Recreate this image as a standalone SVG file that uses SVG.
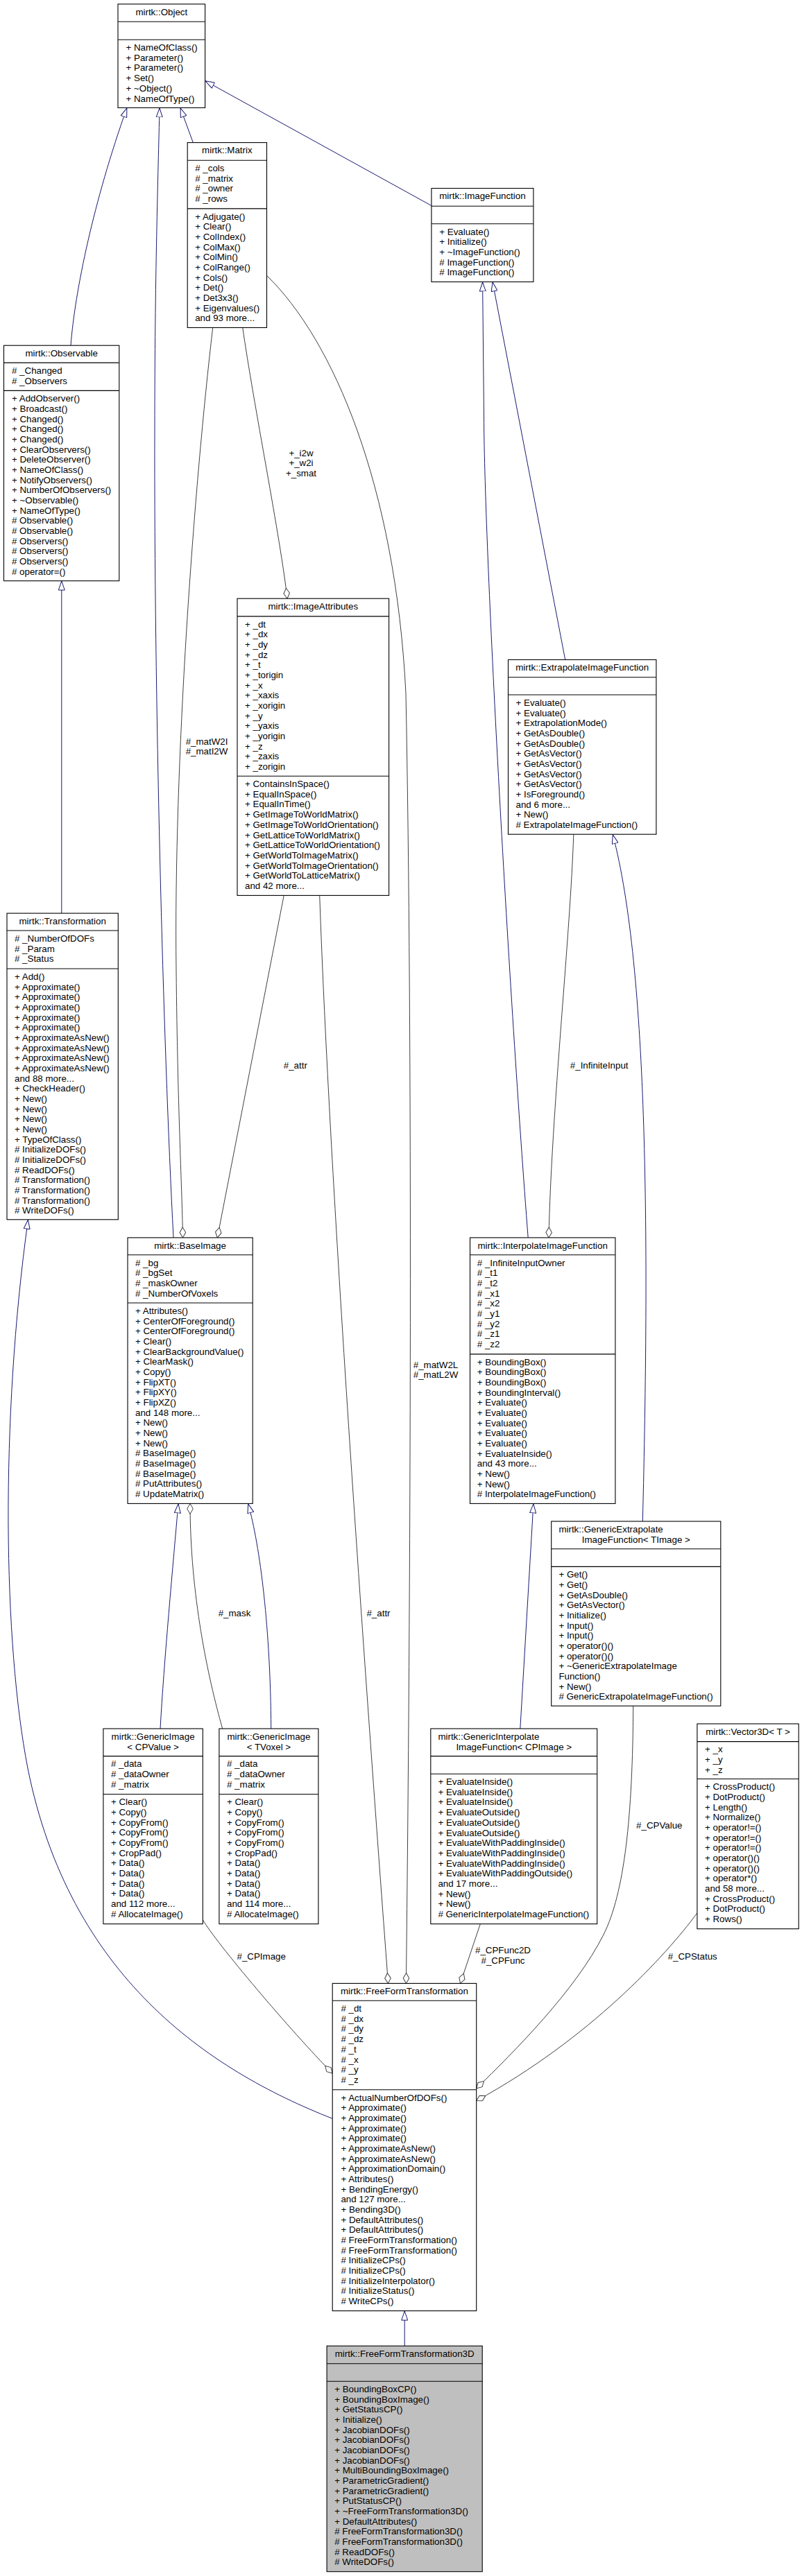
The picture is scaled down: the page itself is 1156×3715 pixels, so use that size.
<svg xmlns="http://www.w3.org/2000/svg" width="1156" height="3715" viewBox="0 0 1156 3715">
<style>
text{font-family:"Liberation Sans",Arial,Helvetica,sans-serif;font-size:13.33px;fill:#000}
.c{text-anchor:middle}
.n rect{fill:#fff;stroke:#000;stroke-width:1.1}
.n path{stroke:#000;stroke-width:1.1;fill:none}
.g rect{fill:#bfbfbf}
.inh{fill:none;stroke:#191970;stroke-width:1;marker-end:url(#tri)}
.use{fill:none;stroke:#404040;stroke-width:1;marker-end:url(#dia)}
</style>
<defs>
<marker id="tri" viewBox="0 0 14 10" refX="14" refY="5" markerWidth="14" markerHeight="10" markerUnits="userSpaceOnUse" orient="auto"><path d="M0.5,0.5 L13.5,5 L0.5,9.5 z" fill="#fff" stroke="#191970" stroke-width="1"/></marker>
<marker id="dia" viewBox="0 0 16 10" refX="15.5" refY="5" markerWidth="16" markerHeight="10" markerUnits="userSpaceOnUse" orient="auto"><path d="M0.5,5 L8,0.7 L15.5,5 L8,9.3 z" fill="#fff" stroke="#404040" stroke-width="1"/></marker>
</defs>
<rect width="1156" height="3715" fill="#fff"/>
<g id="edges">
<path class="inh" d="M102,498.2 C108,420 135,290 183,155.4"/>
<path class="inh" d="M250,1784.9 C235,1500 222,1000 223,620 C223,400 228,250 230,155.4"/>
<path class="inh" d="M278.3,205.6 L259.9,155.4"/>
<path class="inh" d="M621.9,296.6 L295.6,116.6"/>
<path class="inh" d="M88.8,1317.1 L88.8,837.5"/>
<path class="inh" d="M761.2,1784.9 C735,1450 698,800 697.5,600 L695.6,406.5"/>
<path class="inh" d="M814.7,951.4 L710,406.5"/>
<path class="inh" d="M926.3,2194 C936,1800 935,1400 883.2,1203.2"/>
<path class="inh" d="M749.8,2493 L768.9,2168.4"/>
<path class="inh" d="M231,2493 C236,2400 250,2250 257,2168.4"/>
<path class="inh" d="M390.7,2493 C390,2350 375,2230 357.6,2168.4"/>
<path class="inh" d="M479.2,3055.3 C300,2985 100,2850 40,2550 C5,2370 0,2050 40.5,1758.8"/>
<path class="inh" d="M583.2,3383.2 L583.2,3332.6"/>
<path class="use" d="M349.8,472.5 C365,580 405,780 414,863.2"/>
<path class="use" d="M306.7,472.5 C280,700 250,1100 254,1400 C256,1600 262,1700 263.5,1784.9"/>
<path class="use" d="M384.5,397.4 C480,490 570,700 585,1000 C595,1500 592,2300 585.4,2860.4"/>
<path class="use" d="M409.2,1291.4 L313.3,1784.9"/>
<path class="use" d="M460.7,1291.4 C475,1700 525,2400 559.5,2860.4"/>
<path class="use" d="M826.8,1203.2 C822,1350 795,1600 791,1784.9"/>
<path class="use" d="M320.7,2493 C300,2420 274,2300 274,2168.4"/>
<path class="use" d="M292.3,2768.6 C310,2800 420,2930 479.2,2990"/>
<path class="use" d="M692.3,2774.6 L663.5,2860.4"/>
<path class="use" d="M912.7,2460.2 C912,2620 900,2730 870,2790 C830,2870 740,2960 686.7,3011.8"/>
<path class="use" d="M1004.9,2758.8 C960,2820 850,2940 686.7,3029.6"/>
<g id="edge-labels">
<text class="c" x="434" y="657.5">+_i2w</text>
<text class="c" x="434" y="672.2">+_w2i</text>
<text class="c" x="434" y="686.8">+_smat</text>
<text class="c" x="298" y="1073.5">#_matW2I</text>
<text class="c" x="298" y="1088.2">#_matI2W</text>
<text class="c" x="425.8" y="1541.3">#_attr</text>
<text class="c" x="863.7" y="1541.3">#_InfiniteInput</text>
<text class="c" x="628" y="1972.7">#_matW2L</text>
<text class="c" x="628" y="1987.3">#_matL2W</text>
<text class="c" x="338" y="2331.3">#_mask</text>
<text class="c" x="545.5" y="2331.3">#_attr</text>
<text class="c" x="950.3" y="2636.9">#_CPValue</text>
<text class="c" x="376.7" y="2825.5">#_CPImage</text>
<text class="c" x="725" y="2816.8">#_CPFunc2D</text>
<text class="c" x="725" y="2831.5">#_CPFunc</text>
<text class="c" x="998.2" y="2825.5">#_CPStatus</text>
</g>
</g>
<g id="Object" class="n">
<rect x="170" y="5.9" width="125.6" height="149.5"/>
<path d="M170,31.2 H295.6 M170,57.3 H295.6"/>
<text class="c" x="232.8" y="22">mirtk::Object</text>
<text x="181.5" y="73.1">+ NameOfClass()</text>
<text x="181.5" y="87.8">+ Parameter()</text>
<text x="181.5" y="102.4">+ Parameter()</text>
<text x="181.5" y="117.1">+ Set()</text>
<text x="181.5" y="131.8">+ ~Object()</text>
<text x="181.5" y="146.5">+ NameOfType()</text>
</g>
<g id="Matrix" class="n">
<rect x="270.2" y="205.6" width="114.3" height="266.9"/>
<path d="M270.2,231.3 H384.5 M270.2,300.9 H384.5"/>
<text class="c" x="327.35" y="221.4">mirtk::Matrix</text>
<text x="281.2" y="247.1"># _cols</text>
<text x="281.2" y="261.8"># _matrix</text>
<text x="281.2" y="276.4"># _owner</text>
<text x="281.2" y="291.1"># _rows</text>
<text x="281.2" y="316.7">+ Adjugate()</text>
<text x="281.2" y="331.4">+ Clear()</text>
<text x="281.2" y="346">+ ColIndex()</text>
<text x="281.2" y="360.7">+ ColMax()</text>
<text x="281.2" y="375.4">+ ColMin()</text>
<text x="281.2" y="390.1">+ ColRange()</text>
<text x="281.2" y="404.7">+ Cols()</text>
<text x="281.2" y="419.4">+ Det()</text>
<text x="281.2" y="434.1">+ Det3x3()</text>
<text x="281.2" y="448.7">+ Eigenvalues()</text>
<text x="281.2" y="463.4">and 93 more...</text>
</g>
<g id="ImageFunction" class="n">
<rect x="621.9" y="271.6" width="147" height="134.9"/>
<path d="M621.9,297.3 H768.9 M621.9,322.7 H768.9"/>
<text class="c" x="695.4" y="287.4">mirtk::ImageFunction</text>
<text x="633.3" y="338.5">+ Evaluate()</text>
<text x="633.3" y="353.2">+ Initialize()</text>
<text x="633.3" y="367.8">+ ~ImageFunction()</text>
<text x="633.3" y="382.5"># ImageFunction()</text>
<text x="633.3" y="397.2"># ImageFunction()</text>
</g>
<g id="Observable" class="n">
<rect x="5.5" y="498.2" width="166.3" height="339.5"/>
<path d="M5.5,523.1 H171.8 M5.5,563.4 H171.8"/>
<text class="c" x="88.65" y="514">mirtk::Observable</text>
<text x="17" y="538.9"># _Changed</text>
<text x="17" y="553.6"># _Observers</text>
<text x="17" y="579.2">+ AddObserver()</text>
<text x="17" y="593.9">+ Broadcast()</text>
<text x="17" y="608.5">+ Changed()</text>
<text x="17" y="623.2">+ Changed()</text>
<text x="17" y="637.9">+ Changed()</text>
<text x="17" y="652.6">+ ClearObservers()</text>
<text x="17" y="667.2">+ DeleteObserver()</text>
<text x="17" y="681.9">+ NameOfClass()</text>
<text x="17" y="696.6">+ NotifyObservers()</text>
<text x="17" y="711.2">+ NumberOfObservers()</text>
<text x="17" y="725.9">+ ~Observable()</text>
<text x="17" y="740.6">+ NameOfType()</text>
<text x="17" y="755.2"># Observable()</text>
<text x="17" y="769.9"># Observable()</text>
<text x="17" y="784.6"># Observers()</text>
<text x="17" y="799.3"># Observers()</text>
<text x="17" y="813.9"># Observers()</text>
<text x="17" y="828.6"># operator=()</text>
</g>
<g id="ImageAttributes" class="n">
<rect x="342" y="863.2" width="218.6" height="428.2"/>
<path d="M342,888.9 H560.6 M342,1119.3 H560.6"/>
<text class="c" x="451.3" y="879">mirtk::ImageAttributes</text>
<text x="353" y="904.7">+ _dt</text>
<text x="353" y="919.4">+ _dx</text>
<text x="353" y="934">+ _dy</text>
<text x="353" y="948.7">+ _dz</text>
<text x="353" y="963.4">+ _t</text>
<text x="353" y="978.1">+ _torigin</text>
<text x="353" y="992.7">+ _x</text>
<text x="353" y="1007.4">+ _xaxis</text>
<text x="353" y="1022.1">+ _xorigin</text>
<text x="353" y="1036.7">+ _y</text>
<text x="353" y="1051.4">+ _yaxis</text>
<text x="353" y="1066.1">+ _yorigin</text>
<text x="353" y="1080.7">+ _z</text>
<text x="353" y="1095.4">+ _zaxis</text>
<text x="353" y="1110.1">+ _zorigin</text>
<text x="353" y="1135.1">+ ContainsInSpace()</text>
<text x="353" y="1149.8">+ EqualInSpace()</text>
<text x="353" y="1164.4">+ EqualInTime()</text>
<text x="353" y="1179.1">+ GetImageToWorldMatrix()</text>
<text x="353" y="1193.8">+ GetImageToWorldOrientation()</text>
<text x="353" y="1208.5">+ GetLatticeToWorldMatrix()</text>
<text x="353" y="1223.1">+ GetLatticeToWorldOrientation()</text>
<text x="353" y="1237.8">+ GetWorldToImageMatrix()</text>
<text x="353" y="1252.5">+ GetWorldToImageOrientation()</text>
<text x="353" y="1267.1">+ GetWorldToLatticeMatrix()</text>
<text x="353" y="1281.8">and 42 more...</text>
</g>
<g id="ExtrapolateImageFunction" class="n">
<rect x="732.5" y="951.4" width="213.4" height="251.8"/>
<path d="M732.5,976.7 H945.9 M732.5,1002 H945.9"/>
<text class="c" x="839.2" y="967.2">mirtk::ExtrapolateImageFunction</text>
<text x="743.5" y="1017.8">+ Evaluate()</text>
<text x="743.5" y="1032.5">+ Evaluate()</text>
<text x="743.5" y="1047.1">+ ExtrapolationMode()</text>
<text x="743.5" y="1061.8">+ GetAsDouble()</text>
<text x="743.5" y="1076.5">+ GetAsDouble()</text>
<text x="743.5" y="1091.2">+ GetAsVector()</text>
<text x="743.5" y="1105.8">+ GetAsVector()</text>
<text x="743.5" y="1120.5">+ GetAsVector()</text>
<text x="743.5" y="1135.2">+ GetAsVector()</text>
<text x="743.5" y="1149.8">+ IsForeground()</text>
<text x="743.5" y="1164.5">and 6 more...</text>
<text x="743.5" y="1179.2">+ New()</text>
<text x="743.5" y="1193.8"># ExtrapolateImageFunction()</text>
</g>
<g id="Transformation" class="n">
<rect x="10" y="1317.1" width="160.3" height="441.7"/>
<path d="M10,1342 H170.3 M10,1397 H170.3"/>
<text class="c" x="90.15" y="1332.9">mirtk::Transformation</text>
<text x="21" y="1357.8"># _NumberOfDOFs</text>
<text x="21" y="1372.5"># _Param</text>
<text x="21" y="1387.1"># _Status</text>
<text x="21" y="1412.8">+ Add()</text>
<text x="21" y="1427.5">+ Approximate()</text>
<text x="21" y="1442.1">+ Approximate()</text>
<text x="21" y="1456.8">+ Approximate()</text>
<text x="21" y="1471.5">+ Approximate()</text>
<text x="21" y="1486.2">+ Approximate()</text>
<text x="21" y="1500.8">+ ApproximateAsNew()</text>
<text x="21" y="1515.5">+ ApproximateAsNew()</text>
<text x="21" y="1530.2">+ ApproximateAsNew()</text>
<text x="21" y="1544.8">+ ApproximateAsNew()</text>
<text x="21" y="1559.5">and 88 more...</text>
<text x="21" y="1574.2">+ CheckHeader()</text>
<text x="21" y="1588.8">+ New()</text>
<text x="21" y="1603.5">+ New()</text>
<text x="21" y="1618.2">+ New()</text>
<text x="21" y="1632.9">+ New()</text>
<text x="21" y="1647.5">+ TypeOfClass()</text>
<text x="21" y="1662.2"># InitializeDOFs()</text>
<text x="21" y="1676.9"># InitializeDOFs()</text>
<text x="21" y="1691.5"># ReadDOFs()</text>
<text x="21" y="1706.2"># Transformation()</text>
<text x="21" y="1720.9"># Transformation()</text>
<text x="21" y="1735.5"># Transformation()</text>
<text x="21" y="1750.2"># WriteDOFs()</text>
</g>
<g id="BaseImage" class="n">
<rect x="184" y="1784.9" width="180.2" height="383.5"/>
<path d="M184,1809.8 H364.2 M184,1879 H364.2"/>
<text class="c" x="274.1" y="1800.7">mirtk::BaseImage</text>
<text x="195" y="1825.6"># _bg</text>
<text x="195" y="1840.3"># _bgSet</text>
<text x="195" y="1854.9"># _maskOwner</text>
<text x="195" y="1869.6"># _NumberOfVoxels</text>
<text x="195" y="1894.8">+ Attributes()</text>
<text x="195" y="1909.5">+ CenterOfForeground()</text>
<text x="195" y="1924.1">+ CenterOfForeground()</text>
<text x="195" y="1938.8">+ Clear()</text>
<text x="195" y="1953.5">+ ClearBackgroundValue()</text>
<text x="195" y="1968.2">+ ClearMask()</text>
<text x="195" y="1982.8">+ Copy()</text>
<text x="195" y="1997.5">+ FlipXT()</text>
<text x="195" y="2012.2">+ FlipXY()</text>
<text x="195" y="2026.8">+ FlipXZ()</text>
<text x="195" y="2041.5">and 148 more...</text>
<text x="195" y="2056.2">+ New()</text>
<text x="195" y="2070.8">+ New()</text>
<text x="195" y="2085.5">+ New()</text>
<text x="195" y="2100.2"># BaseImage()</text>
<text x="195" y="2114.9"># BaseImage()</text>
<text x="195" y="2129.5"># BaseImage()</text>
<text x="195" y="2144.2"># PutAttributes()</text>
<text x="195" y="2158.9"># UpdateMatrix()</text>
</g>
<g id="InterpolateImageFunction" class="n">
<rect x="677.5" y="1784.9" width="209.4" height="383.5"/>
<path d="M677.5,1809.8 H886.9 M677.5,1952.9 H886.9"/>
<text class="c" x="782.2" y="1800.7">mirtk::InterpolateImageFunction</text>
<text x="687.8" y="1825.6"># _InfiniteInputOwner</text>
<text x="687.8" y="1840.3"># _t1</text>
<text x="687.8" y="1854.9"># _t2</text>
<text x="687.8" y="1869.6"># _x1</text>
<text x="687.8" y="1884.3"># _x2</text>
<text x="687.8" y="1899"># _y1</text>
<text x="687.8" y="1913.6"># _y2</text>
<text x="687.8" y="1928.3"># _z1</text>
<text x="687.8" y="1943"># _z2</text>
<text x="687.8" y="1968.7">+ BoundingBox()</text>
<text x="687.8" y="1983.4">+ BoundingBox()</text>
<text x="687.8" y="1998">+ BoundingBox()</text>
<text x="687.8" y="2012.7">+ BoundingInterval()</text>
<text x="687.8" y="2027.4">+ Evaluate()</text>
<text x="687.8" y="2042.1">+ Evaluate()</text>
<text x="687.8" y="2056.7">+ Evaluate()</text>
<text x="687.8" y="2071.4">+ Evaluate()</text>
<text x="687.8" y="2086.1">+ Evaluate()</text>
<text x="687.8" y="2100.7">+ EvaluateInside()</text>
<text x="687.8" y="2115.4">and 43 more...</text>
<text x="687.8" y="2130.1">+ New()</text>
<text x="687.8" y="2144.7">+ New()</text>
<text x="687.8" y="2159.4"># InterpolateImageFunction()</text>
</g>
<g id="GenericExtrapolateImageFunction" class="n">
<rect x="794.7" y="2194" width="244.1" height="266.2"/>
<path d="M794.7,2233.7 H1038.8 M794.7,2259.4 H1038.8"/>
<text x="805.4" y="2209.8">mirtk::GenericExtrapolate</text>
<text class="c" x="916.75" y="2224.5">ImageFunction&lt; TImage &gt;</text>
<text x="805.4" y="2275.2">+ Get()</text>
<text x="805.4" y="2289.9">+ Get()</text>
<text x="805.4" y="2304.5">+ GetAsDouble()</text>
<text x="805.4" y="2319.2">+ GetAsVector()</text>
<text x="805.4" y="2333.9">+ Initialize()</text>
<text x="805.4" y="2348.6">+ Input()</text>
<text x="805.4" y="2363.2">+ Input()</text>
<text x="805.4" y="2377.9">+ operator()()</text>
<text x="805.4" y="2392.6">+ operator()()</text>
<text x="805.4" y="2407.2">+ ~GenericExtrapolateImage</text>
<text x="805.4" y="2421.9">Function()</text>
<text x="805.4" y="2436.6">+ New()</text>
<text x="805.4" y="2451.2"># GenericExtrapolateImageFunction()</text>
</g>
<g id="GenericImage_CPValue" class="n">
<rect x="148.9" y="2493" width="143.4" height="281.6"/>
<path d="M148.9,2532.6 H292.3 M148.9,2587.5 H292.3"/>
<text class="c" x="220.6" y="2508.8">mirtk::GenericImage</text>
<text class="c" x="220.6" y="2523.5">&lt; CPValue &gt;</text>
<text x="160" y="2548.4"># _data</text>
<text x="160" y="2563.1"># _dataOwner</text>
<text x="160" y="2577.7"># _matrix</text>
<text x="160" y="2603.3">+ Clear()</text>
<text x="160" y="2618">+ Copy()</text>
<text x="160" y="2632.6">+ CopyFrom()</text>
<text x="160" y="2647.3">+ CopyFrom()</text>
<text x="160" y="2662">+ CopyFrom()</text>
<text x="160" y="2676.7">+ CropPad()</text>
<text x="160" y="2691.3">+ Data()</text>
<text x="160" y="2706">+ Data()</text>
<text x="160" y="2720.7">+ Data()</text>
<text x="160" y="2735.3">+ Data()</text>
<text x="160" y="2750">and 112 more...</text>
<text x="160" y="2764.7"># AllocateImage()</text>
</g>
<g id="GenericImage_TVoxel" class="n">
<rect x="315.9" y="2493" width="143" height="281.6"/>
<path d="M315.9,2532.6 H458.9 M315.9,2587.5 H458.9"/>
<text class="c" x="387.4" y="2508.8">mirtk::GenericImage</text>
<text class="c" x="387.4" y="2523.5">&lt; TVoxel &gt;</text>
<text x="327" y="2548.4"># _data</text>
<text x="327" y="2563.1"># _dataOwner</text>
<text x="327" y="2577.7"># _matrix</text>
<text x="327" y="2603.3">+ Clear()</text>
<text x="327" y="2618">+ Copy()</text>
<text x="327" y="2632.6">+ CopyFrom()</text>
<text x="327" y="2647.3">+ CopyFrom()</text>
<text x="327" y="2662">+ CopyFrom()</text>
<text x="327" y="2676.7">+ CropPad()</text>
<text x="327" y="2691.3">+ Data()</text>
<text x="327" y="2706">+ Data()</text>
<text x="327" y="2720.7">+ Data()</text>
<text x="327" y="2735.3">+ Data()</text>
<text x="327" y="2750">and 114 more...</text>
<text x="327" y="2764.7"># AllocateImage()</text>
</g>
<g id="GenericInterpolateImageFunction" class="n">
<rect x="620.8" y="2493" width="239.9" height="281.6"/>
<path d="M620.8,2532.6 H860.7 M620.8,2558.3 H860.7"/>
<text x="631.4" y="2508.8">mirtk::GenericInterpolate</text>
<text class="c" x="740.75" y="2523.5">ImageFunction&lt; CPImage &gt;</text>
<text x="631.4" y="2574.1">+ EvaluateInside()</text>
<text x="631.4" y="2588.8">+ EvaluateInside()</text>
<text x="631.4" y="2603.4">+ EvaluateInside()</text>
<text x="631.4" y="2618.1">+ EvaluateOutside()</text>
<text x="631.4" y="2632.8">+ EvaluateOutside()</text>
<text x="631.4" y="2647.5">+ EvaluateOutside()</text>
<text x="631.4" y="2662.1">+ EvaluateWithPaddingInside()</text>
<text x="631.4" y="2676.8">+ EvaluateWithPaddingInside()</text>
<text x="631.4" y="2691.5">+ EvaluateWithPaddingInside()</text>
<text x="631.4" y="2706.1">+ EvaluateWithPaddingOutside()</text>
<text x="631.4" y="2720.8">and 17 more...</text>
<text x="631.4" y="2735.5">+ New()</text>
<text x="631.4" y="2750.1">+ New()</text>
<text x="631.4" y="2764.8"># GenericInterpolateImageFunction()</text>
</g>
<g id="Vector3D" class="n">
<rect x="1004.9" y="2486" width="146.3" height="295.7"/>
<path d="M1004.9,2511.6 H1151.2 M1004.9,2565.5 H1151.2"/>
<text class="c" x="1078" y="2501.8">mirtk::Vector3D&lt; T &gt;</text>
<text x="1016" y="2527.4">+ _x</text>
<text x="1016" y="2542.1">+ _y</text>
<text x="1016" y="2556.7">+ _z</text>
<text x="1016" y="2581.3">+ CrossProduct()</text>
<text x="1016" y="2596">+ DotProduct()</text>
<text x="1016" y="2610.6">+ Length()</text>
<text x="1016" y="2625.3">+ Normalize()</text>
<text x="1016" y="2640">+ operator!=()</text>
<text x="1016" y="2654.7">+ operator!=()</text>
<text x="1016" y="2669.3">+ operator!=()</text>
<text x="1016" y="2684">+ operator()()</text>
<text x="1016" y="2698.7">+ operator()()</text>
<text x="1016" y="2713.3">+ operator*()</text>
<text x="1016" y="2728">and 58 more...</text>
<text x="1016" y="2742.7">+ CrossProduct()</text>
<text x="1016" y="2757.3">+ DotProduct()</text>
<text x="1016" y="2772">+ Rows()</text>
</g>
<g id="FreeFormTransformation" class="n">
<rect x="479.2" y="2860.4" width="207.5" height="472.2"/>
<path d="M479.2,2885.3 H686.7 M479.2,3013.8 H686.7"/>
<text class="c" x="582.95" y="2876.2">mirtk::FreeFormTransformation</text>
<text x="491.4" y="2901.1"># _dt</text>
<text x="491.4" y="2915.8"># _dx</text>
<text x="491.4" y="2930.4"># _dy</text>
<text x="491.4" y="2945.1"># _dz</text>
<text x="491.4" y="2959.8"># _t</text>
<text x="491.4" y="2974.5"># _x</text>
<text x="491.4" y="2989.1"># _y</text>
<text x="491.4" y="3003.8"># _z</text>
<text x="491.4" y="3029.6">+ ActualNumberOfDOFs()</text>
<text x="491.4" y="3044.3">+ Approximate()</text>
<text x="491.4" y="3058.9">+ Approximate()</text>
<text x="491.4" y="3073.6">+ Approximate()</text>
<text x="491.4" y="3088.3">+ Approximate()</text>
<text x="491.4" y="3103">+ ApproximateAsNew()</text>
<text x="491.4" y="3117.6">+ ApproximateAsNew()</text>
<text x="491.4" y="3132.3">+ ApproximationDomain()</text>
<text x="491.4" y="3147">+ Attributes()</text>
<text x="491.4" y="3161.6">+ BendingEnergy()</text>
<text x="491.4" y="3176.3">and 127 more...</text>
<text x="491.4" y="3191">+ Bending3D()</text>
<text x="491.4" y="3205.6">+ DefaultAttributes()</text>
<text x="491.4" y="3220.3">+ DefaultAttributes()</text>
<text x="491.4" y="3235"># FreeFormTransformation()</text>
<text x="491.4" y="3249.7"># FreeFormTransformation()</text>
<text x="491.4" y="3264.3"># InitializeCPs()</text>
<text x="491.4" y="3279"># InitializeCPs()</text>
<text x="491.4" y="3293.7"># InitializeInterpolator()</text>
<text x="491.4" y="3308.3"># InitializeStatus()</text>
<text x="491.4" y="3323"># WriteCPs()</text>
</g>
<g id="FreeFormTransformation3D" class="n g">
<rect x="471.1" y="3383.2" width="224.1" height="325.5"/>
<path d="M471.1,3408.7 H695.2 M471.1,3434.2 H695.2"/>
<text class="c" x="583.15" y="3399">mirtk::FreeFormTransformation3D</text>
<text x="482.2" y="3450">+ BoundingBoxCP()</text>
<text x="482.2" y="3464.7">+ BoundingBoxImage()</text>
<text x="482.2" y="3479.3">+ GetStatusCP()</text>
<text x="482.2" y="3494">+ Initialize()</text>
<text x="482.2" y="3508.7">+ JacobianDOFs()</text>
<text x="482.2" y="3523.4">+ JacobianDOFs()</text>
<text x="482.2" y="3538">+ JacobianDOFs()</text>
<text x="482.2" y="3552.7">+ JacobianDOFs()</text>
<text x="482.2" y="3567.4">+ MultiBoundingBoxImage()</text>
<text x="482.2" y="3582">+ ParametricGradient()</text>
<text x="482.2" y="3596.7">+ ParametricGradient()</text>
<text x="482.2" y="3611.4">+ PutStatusCP()</text>
<text x="482.2" y="3626">+ ~FreeFormTransformation3D()</text>
<text x="482.2" y="3640.7">+ DefaultAttributes()</text>
<text x="482.2" y="3655.4"># FreeFormTransformation3D()</text>
<text x="482.2" y="3670.1"># FreeFormTransformation3D()</text>
<text x="482.2" y="3684.7"># ReadDOFs()</text>
<text x="482.2" y="3699.4"># WriteDOFs()</text>
</g>
</svg>
